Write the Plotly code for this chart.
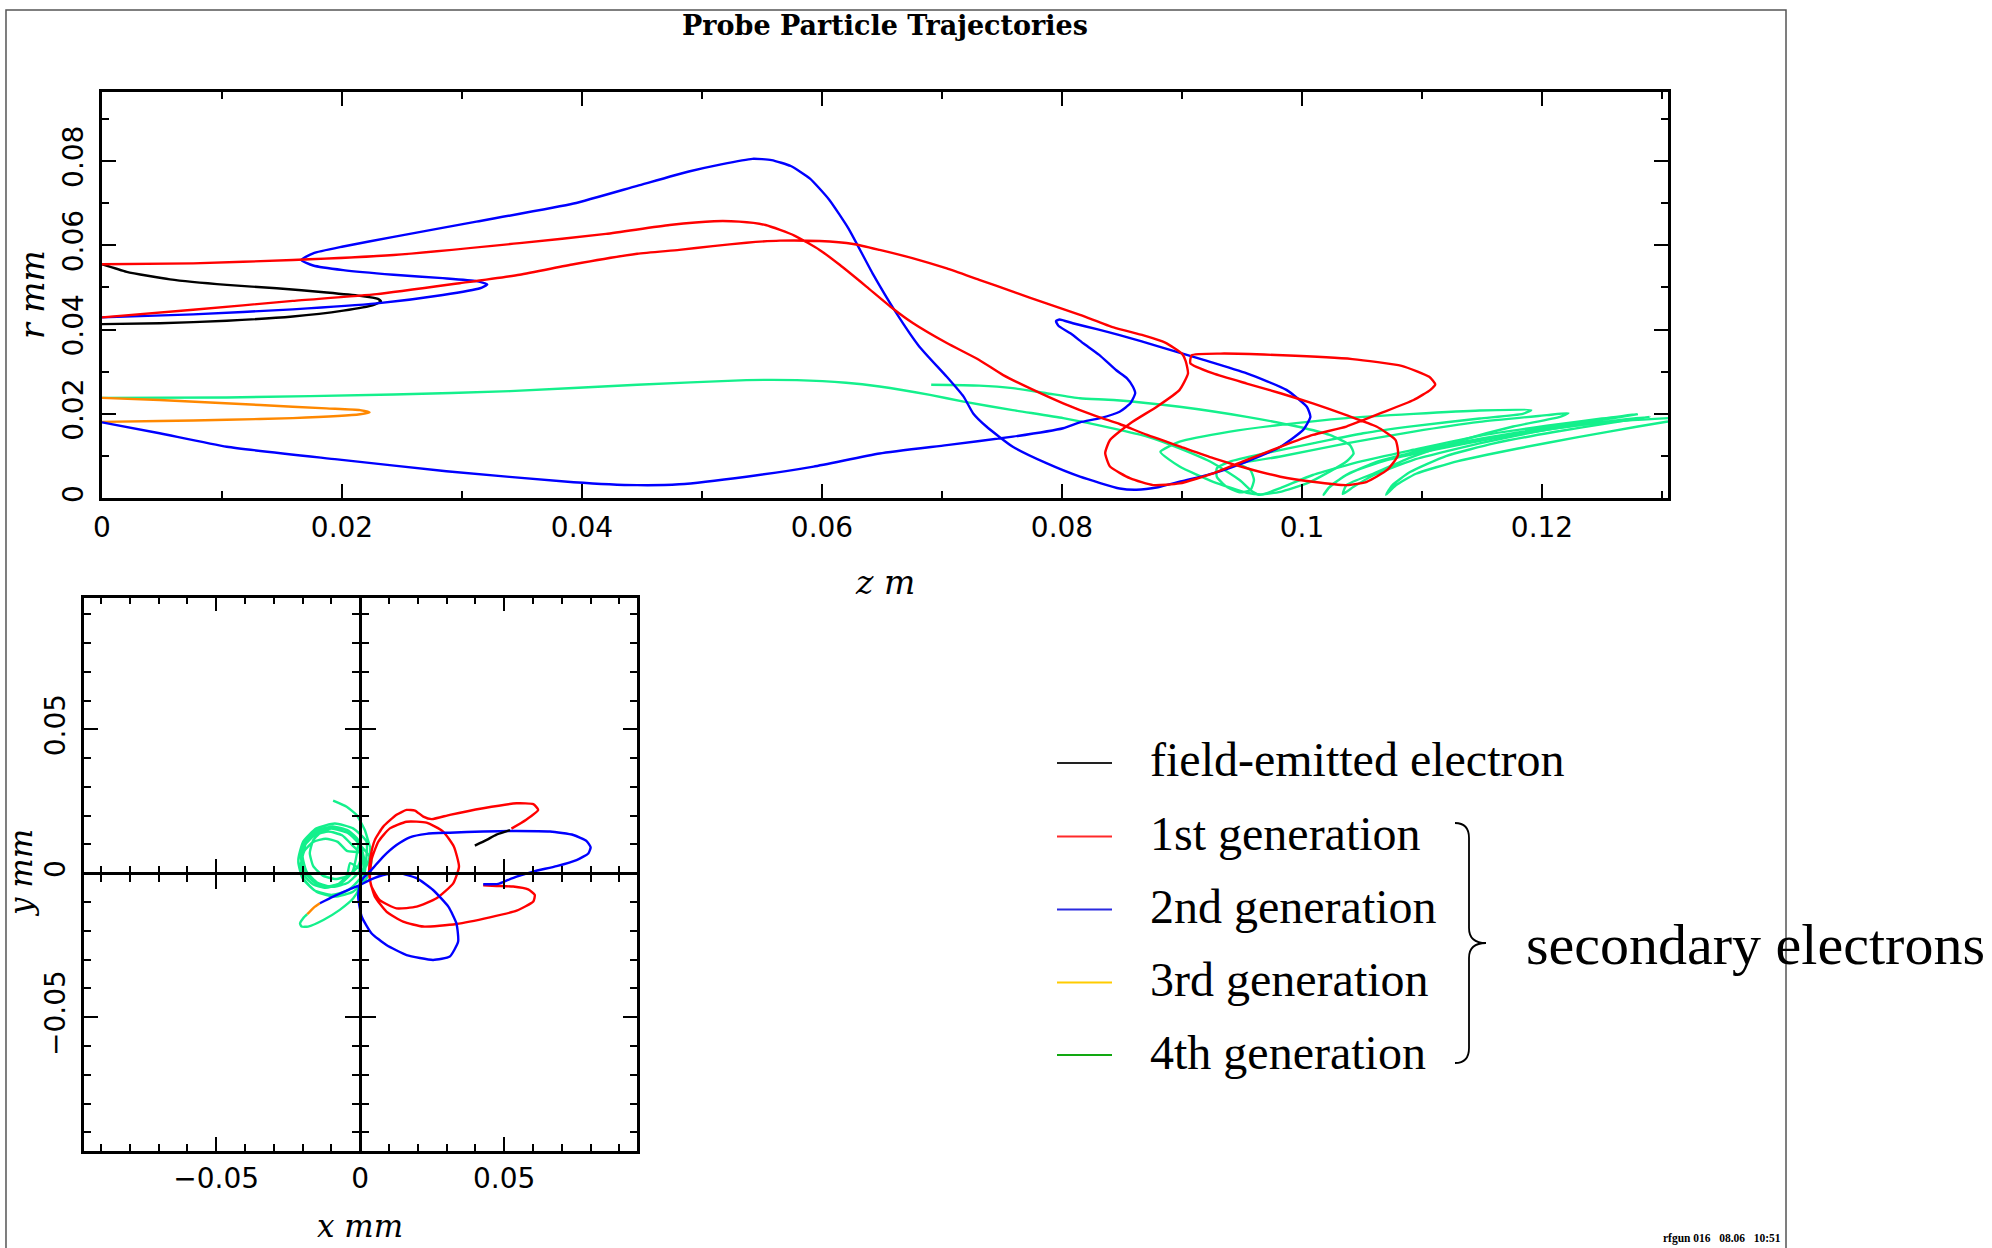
import plotly.graph_objects as go

W, H = 1992, 1248

# ---------------- r-z plot data (z in m, r in mm) ----------------
black_z = [0, 0.00206, 0.00567, 0.0104, 0.01456, 0.01872, 0.0215, 0.0230, 0.02325, 0.0226, 0.0201, 0.0159, 0.0104, 0.00483, 0]
black_r = [0.0555, 0.0537, 0.0519, 0.0506, 0.0498, 0.0488, 0.0480, 0.0473, 0.0467, 0.0458, 0.0445, 0.0431, 0.0421, 0.0415, 0.0413]

red_z = [0, 0.0076, 0.0159, 0.0243, 0.0348, 0.042, 0.0473, 0.051, 0.0531, 0.0553, 0.0577, 0.0598, 0.0615, 0.0637,
         0.0659, 0.0676, 0.0704, 0.0731, 0.0751, 0.0773, 0.0801, 0.0829,
         0.0848, 0.0871, 0.0898, 0.0926, 0.0954, 0.0982, 0.1009, 0.1037, 0.1054, 0.1071, 0.108, 0.1078, 0.1062,
         0.1037, 0.1009, 0.0982, 0.0954, 0.0926, 0.0907, 0.0908,
         0.0932, 0.0984, 0.1042, 0.1083, 0.1106, 0.1111, 0.1107, 0.1093, 0.1065, 0.1037, 0.1009, 0.0982, 0.0954,
         0.0926, 0.0898, 0.0876, 0.0857, 0.0840, 0.0836, 0.0840, 0.0857, 0.0879, 0.0898, 0.0905, 0.0903, 0.0900,
         0.0886, 0.0868,
         0.0843, 0.0815, 0.0787, 0.0759, 0.0731, 0.0704, 0.0676, 0.0648, 0.0626, 0.0598, 0.0565, 0.0537, 0.0509,
         0.0481, 0.0446, 0.0393, 0.0348, 0.0298, 0.0229, 0.0159, 0.0076, 0]
red_r = [0.0555, 0.0557, 0.0565, 0.0577, 0.0605, 0.0627, 0.0648, 0.0657, 0.0656, 0.0648, 0.0623, 0.0589, 0.0553, 0.0502,
         0.0450, 0.0415, 0.0368, 0.0328, 0.0292, 0.0261, 0.0225, 0.0194,
         0.0176, 0.0150, 0.0123, 0.0095, 0.0071, 0.0051, 0.0039, 0.0031, 0.0039, 0.0067, 0.0102, 0.0138, 0.0170,
         0.0197, 0.0225, 0.0249, 0.0272, 0.0296, 0.0320, 0.0339,
         0.0343, 0.0339, 0.0330, 0.0314, 0.0288, 0.0270, 0.0257, 0.0233, 0.0201, 0.0170, 0.0150, 0.0122, 0.0091,
         0.0059, 0.0035, 0.0031, 0.0047, 0.0075, 0.0107, 0.0138, 0.0178, 0.0217, 0.0257, 0.0296, 0.0326, 0.0343,
         0.0369, 0.0386,
         0.0405, 0.0435, 0.0462, 0.0490, 0.0518, 0.0545, 0.0569, 0.0589, 0.0603, 0.0610, 0.0611, 0.0606, 0.0598,
         0.0589, 0.0580, 0.0555, 0.0530, 0.0510, 0.0484, 0.0468, 0.0447, 0.0429]

blue_z = [0, 0.0076, 0.0159, 0.0229, 0.0284, 0.0315, 0.0321, 0.0312, 0.0284, 0.0243, 0.0201, 0.0176, 0.0166, 0.0176,
          0.0201, 0.0243, 0.0312, 0.0393, 0.0446, 0.0489, 0.0516, 0.0542, 0.0558, 0.0574, 0.0590, 0.0606, 0.0622,
          0.0642, 0.0662, 0.0681, 0.0704, 0.0718, 0.0726, 0.0737, 0.0759, 0.0787, 0.0815, 0.0848, 0.0862, 0.0880,
          0.0898, 0.0926, 0.0954, 0.0982, 0.1001, 0.1007, 0.1004, 0.0987, 0.0954, 0.0918, 0.0883, 0.0848, 0.0829,
          0.0809, 0.0798, 0.0795, 0.0797, 0.0807, 0.0818, 0.0831, 0.0845, 0.0854, 0.0859, 0.0861, 0.0857, 0.0848,
          0.0832, 0.0815, 0.0801, 0.0759, 0.0704, 0.0648, 0.0593, 0.0537, 0.0481, 0.0446, 0.0393, 0.0287, 0.0196,
          0.0104, 0.0048, 0]
blue_r = [0.0429, 0.0436, 0.0448, 0.0462, 0.0482, 0.0498, 0.0507, 0.0515, 0.0522, 0.0530, 0.0541, 0.0552, 0.0565, 0.0581,
          0.0597, 0.0620, 0.0656, 0.0699, 0.0741, 0.0775, 0.0792, 0.0805, 0.0802, 0.0788, 0.0758, 0.0708, 0.0640,
          0.0534, 0.0439, 0.0360, 0.0288, 0.0241, 0.0201, 0.0170, 0.0122, 0.0083, 0.0051, 0.0023, 0.0020, 0.0026,
          0.0039, 0.0059, 0.0087, 0.0122, 0.0162, 0.0193, 0.0217, 0.0257, 0.0296, 0.0328, 0.0358, 0.0387, 0.0401,
          0.0415, 0.0424, 0.0420, 0.0409, 0.0391, 0.0367, 0.0340, 0.0304, 0.0285, 0.0265, 0.0249, 0.0225, 0.0205,
          0.0190, 0.0180, 0.0166, 0.0146, 0.0126, 0.0106, 0.0075, 0.0051, 0.0033, 0.0031, 0.0038, 0.0064, 0.0092,
          0.0122, 0.0154, 0.0180]

orange_z = [0, 0.0048, 0.0132, 0.0187, 0.0215, 0.0223, 0.0215, 0.0159, 0.0104, 0.0048, 0]
orange_r = [0.0238, 0.0233, 0.0221, 0.0213, 0.0209, 0.0204, 0.0199, 0.0190, 0.0186, 0.0183, 0.0181]

# 4th generation: first particle (from the cathode) and second particle (from z ~ 0.069)
green1_z = [0, 0.0104, 0.0243, 0.034, 0.0446, 0.0537, 0.0579, 0.0620, 0.0648, 0.0690, 0.0718, 0.0759, 0.0801, 0.0829,
            0.0848, 0.0871, 0.0898, 0.0926, 0.0948, 0.0959, 0.0965,
            0.0982, 0.1009, 0.1050, 0.1093, 0.1148, 0.1204, 0.1250, 0.1279,
            0.1250, 0.1200, 0.1150, 0.1100, 0.1060, 0.1035, 0.1022, 0.1018,
            0.1024, 0.1040, 0.1070, 0.1110, 0.1160, 0.1210, 0.1260, 0.1290,
            0.1260, 0.1210, 0.1160, 0.1120, 0.1090, 0.1075, 0.1070,
            0.1078, 0.1095, 0.1130, 0.1180, 0.1230, 0.1280, 0.1305]
green1_r = [0.0238, 0.0239, 0.0246, 0.0254, 0.0269, 0.0280, 0.0280, 0.0274, 0.0265, 0.0245, 0.0229, 0.0209, 0.0190, 0.0174,
            0.0162, 0.0146, 0.0118, 0.0083, 0.0043, 0.0015, 0.0008,
            0.0024, 0.0055, 0.0088, 0.0115, 0.0148, 0.0172, 0.0189, 0.0199,
            0.0186, 0.0165, 0.0142, 0.0114, 0.0084, 0.0052, 0.0024, 0.0008,
            0.0030, 0.0060, 0.0090, 0.0115, 0.0142, 0.0165, 0.0184, 0.0193,
            0.0180, 0.0157, 0.0130, 0.0100, 0.0062, 0.0030, 0.0008,
            0.0030, 0.0058, 0.0088, 0.0118, 0.0145, 0.0170, 0.0182]

green2_z = [0.0691, 0.0731, 0.0759, 0.0787, 0.0815, 0.0843, 0.0898, 0.0954, 0.0996, 0.1023, 0.1040, 0.1043,
            0.1037, 0.1023, 0.1004, 0.0982, 0.0966, 0.0954, 0.0926, 0.0898, 0.0882,
            0.0898, 0.0940, 0.0982, 0.1037, 0.1093, 0.1148, 0.1191,
            0.1184, 0.1148, 0.1093, 0.1051, 0.1009, 0.0968, 0.0940, 0.0929, 0.0929, 0.0937, 0.0948, 0.0957, 0.0960,
            0.0957, 0.0948,
            0.0982, 0.1037, 0.1093, 0.1148, 0.1204, 0.1222,
            0.1215, 0.1176, 0.1134, 0.1093, 0.1060, 0.1037, 0.1034,
            0.1043, 0.1060, 0.1093, 0.1148, 0.1204, 0.1250, 0.1305]
green2_r = [0.0269, 0.0267, 0.0261, 0.0249, 0.0237, 0.0233, 0.0217, 0.0193, 0.0170, 0.0150, 0.0126, 0.0106,
            0.0087, 0.0063, 0.0035, 0.0015, 0.0009, 0.0013, 0.0039, 0.0075, 0.0110,
            0.0134, 0.0158, 0.0174, 0.0190, 0.0200, 0.0208, 0.0209,
            0.0200, 0.0189, 0.0171, 0.0154, 0.0130, 0.0106, 0.0087, 0.0071, 0.0051, 0.0027, 0.0014, 0.0019, 0.0043,
            0.0067, 0.0081,
            0.0099, 0.0130, 0.0158, 0.0181, 0.0197, 0.0202,
            0.0193, 0.0170, 0.0138, 0.0099, 0.0059, 0.0031, 0.0010,
            0.0027, 0.0055, 0.0091, 0.0130, 0.0162, 0.0180, 0.0190]

# ---------------- x-y plot data (mm) ----------------
black_x = [0.0398, 0.0439, 0.0473, 0.0520]
black_y = [0.0096, 0.0116, 0.0134, 0.0150]

red_x = [0.0525, 0.0575, 0.0618, 0.0601, 0.0543, 0.0427, 0.0311, 0.0248, 0.0219, 0.0190, 0.0161, 0.0126, 0.0080,
         0.0051, 0.0036, 0.0031, 0.0039, 0.0068, 0.0126, 0.0196, 0.0265, 0.0323, 0.0343, 0.0325, 0.0288, 0.0230,
         0.0161, 0.0103, 0.0063, 0.0039, 0.0034, 0.0051, 0.0091, 0.0149, 0.0219, 0.0334, 0.0450, 0.0543, 0.0601,
         0.0606, 0.0583, 0.0531, 0.0473, 0.0427]
red_y = [0.0155, 0.0185, 0.0220, 0.0240, 0.0243, 0.0226, 0.0203, 0.0188, 0.0197, 0.0218, 0.0220, 0.0203, 0.0162,
         0.0116, 0.0058, 0.0000, -0.0046, -0.0093, -0.0122, -0.0116, -0.0087, -0.0035, 0.0023, 0.0093, 0.0145,
         0.0176, 0.0179, 0.0156, 0.0110, 0.0046, -0.0023, -0.0081, -0.0133, -0.0168, -0.0185, -0.0176, -0.0153,
         -0.0130, -0.0098, -0.0075, -0.0056, -0.0046, -0.0044, -0.0042]

blue_x = [0.0427, 0.0479, 0.0514, 0.0543, 0.0601, 0.0682, 0.0751, 0.0792, 0.0800, 0.0786, 0.0740, 0.0659, 0.0543,
          0.0427, 0.0311, 0.0230, 0.0172, 0.0126, 0.0080, 0.0039, 0.0010, -0.0001, -0.0007, 0.0005, 0.0039, 0.0091,
          0.0161, 0.0253, 0.0311, 0.0340, 0.0334, 0.0306, 0.0253, 0.0196, 0.0138, 0.0080, 0.0034, -0.0001, -0.0047,
          -0.0094, -0.0140]
blue_y = [-0.0038, -0.0037, -0.0023, -0.0012, 0.0006, 0.0025, 0.0046, 0.0069, 0.0090, 0.0112, 0.0133, 0.0145, 0.0147,
          0.0145, 0.0141, 0.0137, 0.0125, 0.0098, 0.0058, 0.0012, -0.0017, -0.0035, -0.0081, -0.0150, -0.0208,
          -0.0249, -0.0284, -0.0301, -0.0289, -0.0237, -0.0174, -0.0116, -0.0058, -0.0017, 0.0000, -0.0006, -0.0023,
          -0.0041, -0.0060, -0.0081, -0.0104]

orange_x = [-0.0140, -0.0157, -0.0175, -0.0184]
orange_y = [-0.0104, -0.0116, -0.0133, -0.0142]

green_x = [-0.0184, -0.0198, -0.0209, -0.0204, -0.0181, -0.0128, -0.0071, -0.0024, 0.0000, 0.0015,
           0.0022, -0.0025, -0.0088, -0.0152, -0.0198, -0.0215, -0.0198, -0.0152, -0.0088, -0.0025, 0.0022, 0.0039,
           0.0000, -0.0043, -0.0100, -0.0158, -0.0200, -0.0215, -0.0200, -0.0158, -0.0100, -0.0043, 0.0000, 0.0015,
           -0.0004, -0.0043, -0.0095, -0.0148, -0.0186, -0.0200, -0.0186, -0.0148, -0.0095, -0.0043, -0.0004, 0.0010,
           -0.0028, -0.0063, -0.0110, -0.0158, -0.0192, -0.0205, -0.0192, -0.0158, -0.0110, -0.0063, -0.0028, -0.0015,
           -0.0007, -0.0040, -0.0085, -0.0130, -0.0163, -0.0175, -0.0163, -0.0130, -0.0085, -0.0040, -0.0007, 0.0005,
           -0.0046, -0.0078, -0.0120, -0.0163, -0.0194, -0.0205, -0.0194, -0.0163, -0.0120, -0.0078, -0.0046, -0.0035,
           0.0010, 0.0030, 0.0035, 0.0034, 0.0016, -0.0013, -0.0047, -0.0094]
green_y = [-0.0142, -0.0156, -0.0174, -0.0185, -0.0185, -0.0162, -0.0127, -0.0087, -0.0046, 0.0000,
           0.0110, 0.0156, 0.0173, 0.0156, 0.0110, 0.0046, -0.0018, -0.0064, -0.0081, -0.0064, -0.0018, 0.0046,
           0.0098, 0.0140, 0.0155, 0.0140, 0.0098, 0.0040, -0.0018, -0.0060, -0.0075, -0.0060, -0.0018, 0.0040,
           0.0111, 0.0149, 0.0163, 0.0149, 0.0111, 0.0058, 0.0006, -0.0033, -0.0047, -0.0033, 0.0006, 0.0058,
           0.0098, 0.0132, 0.0145, 0.0132, 0.0098, 0.0050, 0.0003, -0.0032, -0.0045, -0.0032, 0.0003, 0.0050,
           0.0115, 0.0148, 0.0160, 0.0148, 0.0115, 0.0070, 0.0025, -0.0008, -0.0020, -0.0008, 0.0025, 0.0070,
           0.0078, 0.0109, 0.0120, 0.0109, 0.0078, 0.0035, -0.0008, -0.0039, -0.0050, -0.0039, -0.0008, 0.0035,
           0.0010, 0.0045, 0.0093, 0.0093, 0.0150, 0.0203, 0.0231, 0.0252]

# ---------------- text ----------------
title_text = "Probe Particle Trajectories"
legend_labels = ["field-emitted electron", "1st generation", "2nd generation", "3rd generation", "4th generation"]
legend_colors = ["#222222", "#ff2a2a", "#2a2ae0", "#ffcc00", "#12a812"]
group_label = "secondary electrons"
stamp_text = "rfgun 016   08.06   10:51"
top_xticks = [0, 0.02, 0.04, 0.06, 0.08, 0.1, 0.12]
top_yticks = [0, 0.02, 0.04, 0.06, 0.08]
xy_ticks = [-0.05, 0, 0.05]

C_RED, C_BLUE, C_BLACK, C_ORANGE, C_GREEN = "#ff0000", "#0000ff", "#000000", "#ff8800", "#14f08c"


def px(x):
    return x / W


def py(y):
    return 1 - y / H


fig = go.Figure()


def add(xs, ys, color, xa, ya, width=2.4):
    fig.add_trace(go.Scatter(x=xs, y=ys, mode="lines", xaxis=xa, yaxis=ya,
                             line=dict(color=color, width=width, shape="spline", smoothing=0.5),
                             hoverinfo="skip", showlegend=False))


add(green1_z, green1_r, C_GREEN, "x", "y")
add(green2_z, green2_r, C_GREEN, "x", "y")
add(orange_z, orange_r, C_ORANGE, "x", "y")
add(black_z, black_r, C_BLACK, "x", "y")
add(blue_z, blue_r, C_BLUE, "x", "y")
add(red_z, red_r, C_RED, "x", "y")

add(green_x, green_y, C_GREEN, "x2", "y2")
add(orange_x, orange_y, C_ORANGE, "x2", "y2")
add(red_x, red_y, C_RED, "x2", "y2")
add(blue_x, blue_y, C_BLUE, "x2", "y2")
add(black_x, black_y, C_BLACK, "x2", "y2")

# empty traces that instantiate the zero-crossing axes of the x-y plot
fig.add_trace(go.Scatter(x=[], y=[], xaxis="x3", yaxis="y3", showlegend=False, hoverinfo="skip"))
fig.add_trace(go.Scatter(x=[], y=[], xaxis="x4", yaxis="y4", showlegend=False, hoverinfo="skip"))

TICKFONT = dict(family="DejaVu Sans", size=28, color="black")

top_dom_x = [px(102), px(1668)]
top_dom_y = [py(498.2), py(91.8)]
xy_dom_x = [px(84), px(637)]
xy_dom_y = [py(1150.6), py(597.7)]
xy_xrange = [-0.0959, 0.0961]
xy_yrange = [-0.0963, 0.0957]

MINOR = dict(dtick=0.01, tick0=0, ticks="inside", ticklen=7, tickwidth=2, tickcolor="black")
frame_axis = dict(showline=True, linecolor="black", linewidth=2.5, mirror="ticks", ticks="inside",
                  ticklen=14, tickwidth=2, tickcolor="black", showgrid=False, zeroline=False,
                  tickfont=TICKFONT, automargin=False)

fig.update_layout(
    width=W, height=H, margin=dict(l=0, r=0, t=0, b=0, pad=0, autoexpand=False), autosize=False,
    paper_bgcolor="white", plot_bgcolor="white", showlegend=False,
    xaxis=dict(frame_axis, domain=top_dom_x, range=[0, 0.1305], anchor="y", tickvals=top_xticks,
               ticklabelstandoff=2, minor=MINOR),
    yaxis=dict(frame_axis, domain=top_dom_y, range=[0, 0.0964], anchor="x", tickvals=top_yticks, tickangle=-90,
               ticklabelstandoff=5, minor=MINOR),
    xaxis2=dict(frame_axis, domain=xy_dom_x, range=xy_xrange, anchor="y2", tickvals=xy_ticks,
                ticklabelstandoff=1, minor=MINOR),
    yaxis2=dict(frame_axis, domain=xy_dom_y, range=xy_yrange, anchor="x2", tickvals=xy_ticks, tickangle=-90,
                ticklabelstandoff=5, minor=MINOR),
)

x0_paper = xy_dom_x[0] + (0 - xy_xrange[0]) / (xy_xrange[1] - xy_xrange[0]) * (xy_dom_x[1] - xy_dom_x[0])
y0_paper = xy_dom_y[0] + (0 - xy_yrange[0]) / (xy_yrange[1] - xy_yrange[0]) * (xy_dom_y[1] - xy_dom_y[0])

for n, side_ticks in ((3, "outside"), (4, "inside")):
    common = dict(showline=True, linecolor="black", linewidth=2.5, ticks=side_ticks, ticklen=14, tickwidth=2,
                  tickcolor="black", showticklabels=False, showgrid=False, zeroline=False, tickvals=xy_ticks,
                  automargin=False,
                  minor=dict(dtick=0.01, tick0=0, ticks=side_ticks, ticklen=7, tickwidth=2, tickcolor="black"))
    fig.layout["xaxis%d" % n] = dict(common, overlaying="x2", anchor="free", position=y0_paper, range=xy_xrange)
    fig.layout["yaxis%d" % n] = dict(common, overlaying="y2", anchor="free", position=x0_paper, range=xy_yrange)

ann = []
ann.append(dict(text="<b>" + title_text + "</b>", x=px(885), y=py(25), xref="paper", yref="paper", showarrow=False,
                font=dict(family="DejaVu Serif", size=27, color="black"), xanchor="center", yanchor="middle"))
AXT = dict(family="DejaVu Serif", size=33, color="black")
AXT_EDGE = dict(family="DejaVu Serif", size=31, color="black")
ann.append(dict(text="<i>z m</i>", x=px(885), y=py(582), xref="paper", yref="paper", showarrow=False,
                font=AXT, xanchor="center", yanchor="middle"))
ann.append(dict(text="<i>r mm</i>", x=px(33), y=py(295), xref="paper", yref="paper", showarrow=False,
                font=AXT, xanchor="center", yanchor="middle", textangle=-90))
ann.append(dict(text="<i>x mm</i>", x=px(360), y=py(1226), xref="paper", yref="paper", showarrow=False,
                font=AXT_EDGE, xanchor="center", yanchor="middle"))
ann.append(dict(text="<i>y mm</i>", x=px(21), y=py(873), xref="paper", yref="paper", showarrow=False,
                font=AXT_EDGE, xanchor="center", yanchor="middle", textangle=-90))

shapes = []
row_y = [763, 836.5, 909.5, 982.5, 1055]
for lab, col, yy in zip(legend_labels, legend_colors, row_y):
    shapes.append(dict(type="line", xref="paper", yref="paper", x0=px(1057), x1=px(1112), y0=py(yy), y1=py(yy),
                       line=dict(color=col, width=2)))
    ann.append(dict(text=lab, x=px(1148), y=py(yy - 3), xref="paper", yref="paper", showarrow=False,
                    font=dict(family="Liberation Serif", size=48, color="black"), xanchor="left", yanchor="middle"))
ann.append(dict(text=group_label, x=px(1524), y=py(944), xref="paper", yref="paper", showarrow=False,
                font=dict(family="Liberation Serif", size=58, color="black"), xanchor="left", yanchor="middle"))
ann.append(dict(text="<b>" + stamp_text + "</b>", x=px(1783), y=py(1238), xref="paper", yref="paper",
                showarrow=False, font=dict(family="Liberation Serif", size=11.5, color="black"),
                xanchor="right", yanchor="middle"))


def P(x, y):
    return "%.5f,%.5f" % (px(x), py(y))


brace = ("M " + P(1455, 823) + " Q " + P(1469, 823) + " " + P(1469, 838) + " L " + P(1469, 928) +
         " Q " + P(1469, 943) + " " + P(1486, 943) + " Q " + P(1469, 943) + " " + P(1469, 958) +
         " L " + P(1469, 1048) + " Q " + P(1469, 1063) + " " + P(1455, 1063))
shapes.append(dict(type="path", xref="paper", yref="paper", path=brace, line=dict(color="black", width=1.8)))

frame = "M " + P(6, 1248) + " L " + P(6, 10) + " L " + P(1786, 10) + " L " + P(1786, 1248)
shapes.append(dict(type="path", xref="paper", yref="paper", path=frame, line=dict(color="#555555", width=1.5)))

fig.update_layout(annotations=ann, shapes=shapes)
fig.write_html("out.html")
